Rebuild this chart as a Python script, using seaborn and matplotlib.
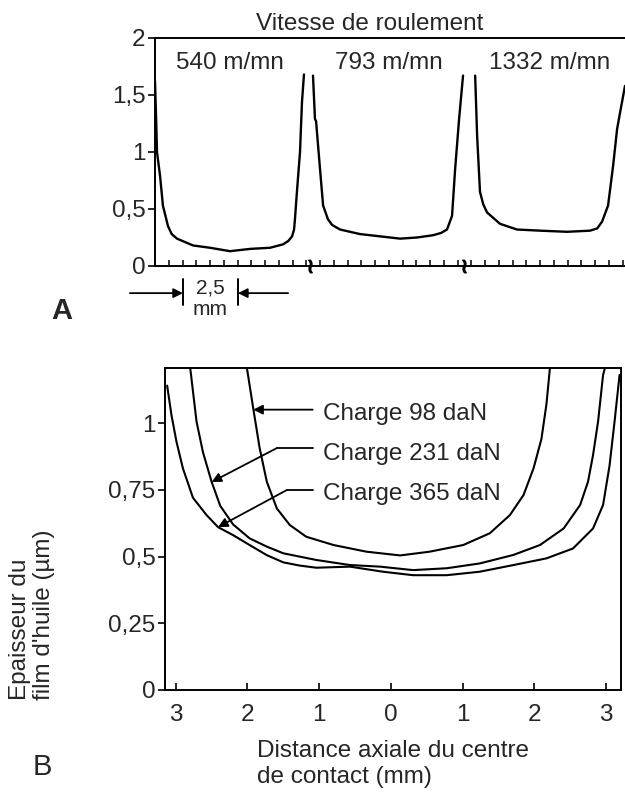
import numpy as np
import pandas as pd
import matplotlib
matplotlib.use("Agg")
import matplotlib.pyplot as plt
import seaborn as sns

# ---------------- Panel A : film thickness across the contact at 3 rolling speeds
speed_labels = ["540 m/mn", "793 m/mn", "1332 m/mn"]
speed_label_x = [3.41, 10.64, 17.95]          # mm along the trace
a540_x = [0.0, 0.05, 0.09, 0.23, 0.36, 0.59, 0.76, 1.0, 1.73, 2.5, 3.41, 4.32,
          5.23, 5.82, 6.06, 6.23, 6.32, 6.36, 6.45, 6.59, 6.68, 6.77]
a540_y = [1.62, 1.30, 1.00, 0.79, 0.53, 0.35, 0.28, 0.24, 0.18, 0.16, 0.13, 0.15,
          0.16, 0.19, 0.22, 0.26, 0.32, 0.41, 0.65, 1.00, 1.44, 1.68]
a793_x = [7.18, 7.27, 7.32, 7.50, 7.64, 7.86, 8.05, 8.41, 9.32, 10.23, 11.14, 11.9,
          12.64, 13.0, 13.27, 13.50, 13.64, 13.82, 14.0]
a793_y = [1.67, 1.29, 1.27, 0.85, 0.53, 0.41, 0.36, 0.32, 0.28, 0.26, 0.24, 0.25,
          0.27, 0.29, 0.32, 0.44, 0.85, 1.29, 1.67]
a1332_x = [14.55, 14.64, 14.77, 14.92, 15.09, 15.68, 16.45, 17.5, 18.73, 19.77,
           20.1, 20.32, 20.59, 20.82, 21.0, 21.14, 21.36]
a1332_y = [1.67, 1.14, 0.65, 0.54, 0.47, 0.37, 0.32, 0.31, 0.30, 0.31,
           0.33, 0.39, 0.53, 0.88, 1.20, 1.35, 1.58]
a_breaks = [7.05, 14.05]
a_yticks = [0, 0.5, 1, 1.5, 2]
a_yticklabels = ["0", "0,5", "1", "1,5", "2"]

# ---------------- Panel B : film thickness vs axial distance for 3 loads
loads = ["Charge 98 daN", "Charge 231 daN", "Charge 365 daN"]
b98_x = [-2.01, -1.92, -1.83, -1.73, -1.59, -1.41, -1.18, -0.80, -0.34, 0.13,
         0.54, 1.01, 1.38, 1.66, 1.85, 1.99, 2.10, 2.17, 2.22]
b98_y = [1.21, 1.056, 0.906, 0.78, 0.68, 0.618, 0.574, 0.543, 0.518, 0.504,
         0.518, 0.543, 0.587, 0.655, 0.73, 0.83, 0.94, 1.07, 1.21]
b231_x = [-2.80, -2.71, -2.62, -2.50, -2.38, -2.20, -1.97, -1.73, -1.50, -1.04,
          -0.57, -0.15, 0.31, 0.78, 1.24, 1.71, 2.08, 2.41, 2.64, 2.75, 2.82,
          2.89, 2.96, 2.99]
b231_y = [1.21, 1.005, 0.89, 0.78, 0.69, 0.62, 0.568, 0.537, 0.512, 0.487,
          0.468, 0.462, 0.449, 0.456, 0.474, 0.506, 0.543, 0.605, 0.693, 0.78,
          0.88, 1.005, 1.18, 1.21]
b365_x = [-3.12, -3.06, -2.99, -2.90, -2.76, -2.57, -2.41, -2.20, -1.97, -1.73,
          -1.50, -1.27, -1.04, -0.57, -0.11, 0.31, 0.78, 1.24, 1.71, 2.17, 2.54,
          2.82, 2.96, 3.05, 3.12, 3.19]
b365_y = [1.14, 1.03, 0.93, 0.83, 0.72, 0.655, 0.61, 0.58, 0.543, 0.505,
          0.478, 0.466, 0.458, 0.462, 0.443, 0.43, 0.43, 0.443, 0.468, 0.493, 0.53,
          0.605, 0.693, 0.84, 1.005, 1.18]
b_xticks = [-3, -2, -1, 0, 1, 2, 3]
b_xticklabels = ["3", "2", "1", "0", "1", "2", "3"]
b_yticks = [0, 0.25, 0.5, 0.75, 1]
b_yticklabels = ["0", "0,25", "0,5", "0,75", "1"]

sns.set_theme(style="white")
plt.rcParams["font.family"] = ["Liberation Sans", "DejaVu Sans"]
plt.rcParams["axes.linewidth"] = 1.4

FS = 17.5
fig = plt.figure(figsize=(6.25, 7.92), dpi=100)

# ================= Panel A
axA = fig.add_axes([155 / 625, 1 - 266 / 792, (625 - 155) / 625, (266 - 38) / 792])
for xs, ys in [(a540_x, a540_y), (a793_x, a793_y), (a1332_x, a1332_y)]:
    sns.lineplot(x=xs, y=ys, ax=axA, sort=False, estimator=None,
                 color="black", lw=1.7)
axA.set_xlim(0, 21.36)
axA.set_ylim(0, 2)
axA.spines["right"].set_visible(False)
for s in ["left", "bottom", "top"]:
    axA.spines[s].set_color("black")
axA.set_yticks(a_yticks)
axA.set_yticklabels(a_yticklabels, fontsize=FS)
axA.set_xticks([])
axA.set_xticks(np.arange(0.625, 21.3, 0.625), minor=True)
axA.tick_params(axis="x", which="minor", direction="in", length=4, width=1.1,
                color="black", bottom=True)
axA.tick_params(axis="y", direction="out", length=5, width=1.2, pad=2,
                color="black", left=True)
axA.plot(a_breaks, [0, 0], ls="none", marker="$\\wr$", ms=9, color="black",
         clip_on=False)
for lab, xx in zip(speed_labels, speed_label_x):
    axA.text(xx, 1.78, lab, ha="center", va="center", fontsize=FS)
fig.text(370 / 625, 1 - 24 / 792, "Vitesse de roulement", ha="center",
         va="center", fontsize=FS)

# 2,5 mm scale marker under the axis
trA = axA.get_xaxis_transform()
axA.annotate("", xy=(1.27, -0.119), xytext=(-1.14, -0.119), xycoords=trA,
             textcoords=trA, annotation_clip=False,
             arrowprops=dict(arrowstyle="-|>", color="black", lw=1.3,
                             mutation_scale=14, shrinkA=0, shrinkB=0))
axA.annotate("", xy=(3.77, -0.119), xytext=(6.05, -0.119), xycoords=trA,
             textcoords=trA, annotation_clip=False,
             arrowprops=dict(arrowstyle="-|>", color="black", lw=1.3,
                             mutation_scale=14, shrinkA=0, shrinkB=0))
for bx in [1.27, 3.77]:
    axA.plot([bx, bx], [-0.055, -0.17], transform=trA, color="black", lw=1.4,
             clip_on=False)
axA.text(2.52, -0.095, "2,5", transform=trA, ha="center", va="center",
         fontsize=15)
axA.text(2.52, -0.19, "mm", transform=trA, ha="center", va="center",
         fontsize=15)
fig.text(62 / 625, 1 - 311 / 792, "A", ha="center", va="center", fontsize=21,
         fontweight="bold")

# ================= Panel B
axB = fig.add_axes([165 / 625, 1 - 690 / 792, (621 - 165) / 625, (690 - 368) / 792])
for xs, ys in [(b98_x, b98_y), (b231_x, b231_y), (b365_x, b365_y)]:
    sns.lineplot(x=xs, y=ys, ax=axB, sort=False, estimator=None,
                 color="black", lw=1.5)
axB.set_xlim(-3.15, 3.21)
axB.set_ylim(0, 1.206)
for s in axB.spines.values():
    s.set_visible(True)
    s.set_color("black")
axB.set_xticks(b_xticks)
axB.set_xticklabels(b_xticklabels, fontsize=FS)
axB.set_yticks(b_yticks)
axB.set_yticklabels(b_yticklabels, fontsize=FS)
axB.tick_params(axis="x", direction="in", length=5, width=1.2, pad=10,
                color="black", bottom=True)
axB.tick_params(axis="y", direction="out", length=5, width=1.2, pad=2,
                color="black", left=True)

label_y = [1.034, 0.884, 0.734]
line_y = [1.05, 0.906, 0.749]
elbow_x = [None, -1.59, -1.45]
head = [(-1.92, 1.05), (-2.50, 0.779), (-2.41, 0.61)]
tail_x = -1.09
for lab, ly, yy, ex, hd in zip(loads, label_y, line_y, elbow_x, head):
    axB.text(-0.95, ly, lab, ha="left", va="center", fontsize=FS)
    if ex is None:
        start = (tail_x, yy)
    else:
        axB.plot([tail_x, ex], [yy, yy], color="black", lw=1.3)
        start = (ex, yy)
    axB.annotate("", xy=hd, xytext=start,
                 arrowprops=dict(arrowstyle="-|>", color="black", lw=1.3,
                                 mutation_scale=14, shrinkA=0, shrinkB=0))

fig.text(32 / 625, 1 - 700 / 792, "Epaisseur du\nfilm d'huile (µm)",
         rotation=90, ha="center", va="bottom", multialignment="left",
         fontsize=FS, linespacing=1.1)
fig.text(257 / 625, 1 - 764 / 792, "Distance axiale du centre\nde contact (mm)",
         ha="left", va="center", multialignment="left", fontsize=FS,
         linespacing=1.28)
fig.text(42 / 625, 1 - 767 / 792, "B", ha="center", va="center", fontsize=21)

fig.savefig("out.png", dpi=100, facecolor="white")
